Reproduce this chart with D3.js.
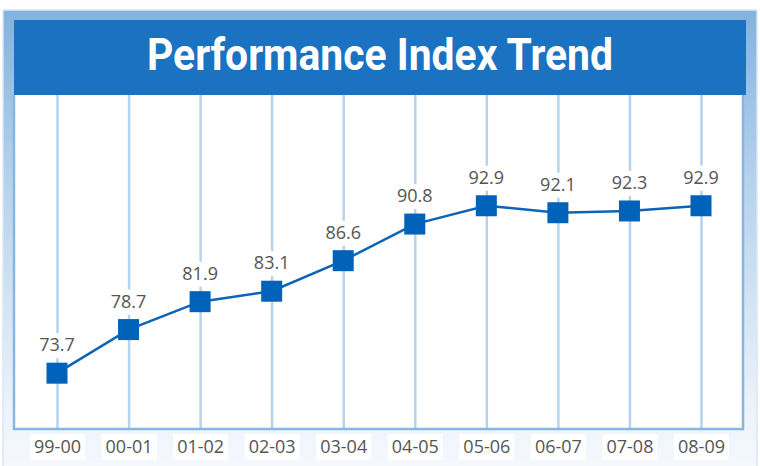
<!DOCTYPE html>
<html>
<head>
<meta charset="utf-8">
<script src="https://cdn.jsdelivr.net/npm/d3@7"></script>
<style>
  body { margin: 0; background: #fff; }
  svg { display: block; }
</style>
</head>
<body>
<svg id="chart"></svg>
<script>
// chart data
const years = ['99-00', '00-01', '01-02', '02-03', '03-04', '04-05', '05-06', '06-07', '07-08', '08-09'];
const scores = [73.7, 78.7, 81.9, 83.1, 86.6, 90.8, 92.9, 92.1, 92.3, 92.9];
const title = 'Performance Index Trend';

const width = 760, height = 466;
const plot = { left: 14, right: 743, top: 95, bottom: 429 };

const svg = d3.select('#chart')
  .attr('width', width)
  .attr('height', height);

// outer frame gradient
const defs = svg.append('defs');
const grad = defs.append('linearGradient')
  .attr('id', 'frameGrad')
  .attr('x1', 0).attr('y1', 0).attr('x2', 0).attr('y2', 1);
grad.append('stop').attr('offset', '0%').attr('stop-color', '#82b3de');
grad.append('stop').attr('offset', '35%').attr('stop-color', '#b3d1ed');
grad.append('stop').attr('offset', '85%').attr('stop-color', '#eaf2fa');
grad.append('stop').attr('offset', '100%').attr('stop-color', '#f6f9fd');

svg.append('rect')
  .attr('x', 3).attr('y', 10)
  .attr('width', 754).attr('height', 460)
  .attr('fill', 'url(#frameGrad)')
  .attr('stroke', '#dbe7f3')
  .attr('stroke-width', 1.5);

// title banner
svg.append('rect')
  .attr('x', 14).attr('y', 20)
  .attr('width', 732).attr('height', 75)
  .attr('fill', '#1a72c0');

svg.append('text')
  .attr('x', 380).attr('y', 70)
  .attr('text-anchor', 'middle')
  .attr('fill', '#fff')
  .attr('font-family', '"Liberation Sans Narrow", "Roboto", sans-serif')
  .attr('font-weight', 'bold')
  .attr('font-size', 44)
  .attr('textLength', 466)
  .attr('lengthAdjust', 'spacingAndGlyphs')
  .text(title);

// plot area
svg.append('rect')
  .attr('x', plot.left).attr('y', plot.top)
  .attr('width', plot.right - plot.left)
  .attr('height', plot.bottom - plot.top)
  .attr('fill', '#fff');

const x = d3.scalePoint()
  .domain(years)
  .range([57, 701]);

const y = d3.scaleLinear()
  .domain([67.3, 105.6])
  .range([plot.bottom, plot.top]);

// vertical grid lines
const xAxis = d3.axisBottom(x)
  .tickSize(-(plot.bottom - plot.top))
  .tickPadding(11);

const xAxisG = svg.append('g')
  .attr('class', 'axis x-axis')
  .attr('transform', `translate(0,${plot.bottom})`)
  .call(xAxis);

xAxisG.select('.domain').remove();
xAxisG.selectAll('.tick line')
  .attr('stroke', '#b5d3ee')
  .attr('stroke-width', 2.5);

xAxisG.selectAll('.tick text')
  .attr('fill', '#555')
  .attr('font-family', '"Open Sans", sans-serif')
  .attr('font-size', 18)
  .attr('dy', '0.71em');

// white boxes behind tick labels
xAxisG.selectAll('.tick').each(function () {
  const t = d3.select(this).select('text');
  const b = t.node().getBBox();
  d3.select(this).insert('rect', 'text')
    .attr('x', b.x - 4).attr('y', b.y)
    .attr('width', b.width + 8).attr('height', b.height + 2)
    .attr('fill', '#fff');
});

// plot border (left, bottom, right)
svg.append('path')
  .attr('d', `M${plot.left},${plot.top}V${plot.bottom}H${plot.right}V${plot.top}`)
  .attr('fill', 'none')
  .attr('stroke', '#88b6e0')
  .attr('stroke-width', 2.5);

const points = years.map((d, i) => ({ year: d, value: scores[i] }));

// value labels with white backing
const labels = svg.append('g').selectAll('g')
  .data(points)
  .join('g')
  .attr('transform', d => `translate(${x(d.year)},${y(d.value) - 22})`);

labels.append('text')
  .attr('text-anchor', 'middle')
  .attr('fill', '#555')
  .attr('font-family', '"Open Sans", sans-serif')
  .attr('font-size', 18)
  .text(d => d.value.toFixed(1));

labels.each(function () {
  const t = d3.select(this).select('text');
  const b = t.node().getBBox();
  d3.select(this).insert('rect', 'text')
    .attr('x', b.x - 3).attr('y', b.y + 1)
    .attr('width', b.width + 6).attr('height', b.height + 1)
    .attr('fill', '#fff');
});

// line
const line = d3.line()
  .x(d => x(d.year))
  .y(d => y(d.value));

svg.append('path')
  .datum(points)
  .attr('d', line)
  .attr('fill', 'none')
  .attr('stroke', '#0a64b8')
  .attr('stroke-width', 2.5);

// square markers
const size = 21;
svg.append('g').selectAll('rect')
  .data(points)
  .join('rect')
  .attr('x', d => x(d.year) - size / 2)
  .attr('y', d => y(d.value) - size / 2)
  .attr('width', size)
  .attr('height', size)
  .attr('fill', '#0062b8');
</script>
</body>
</html>
